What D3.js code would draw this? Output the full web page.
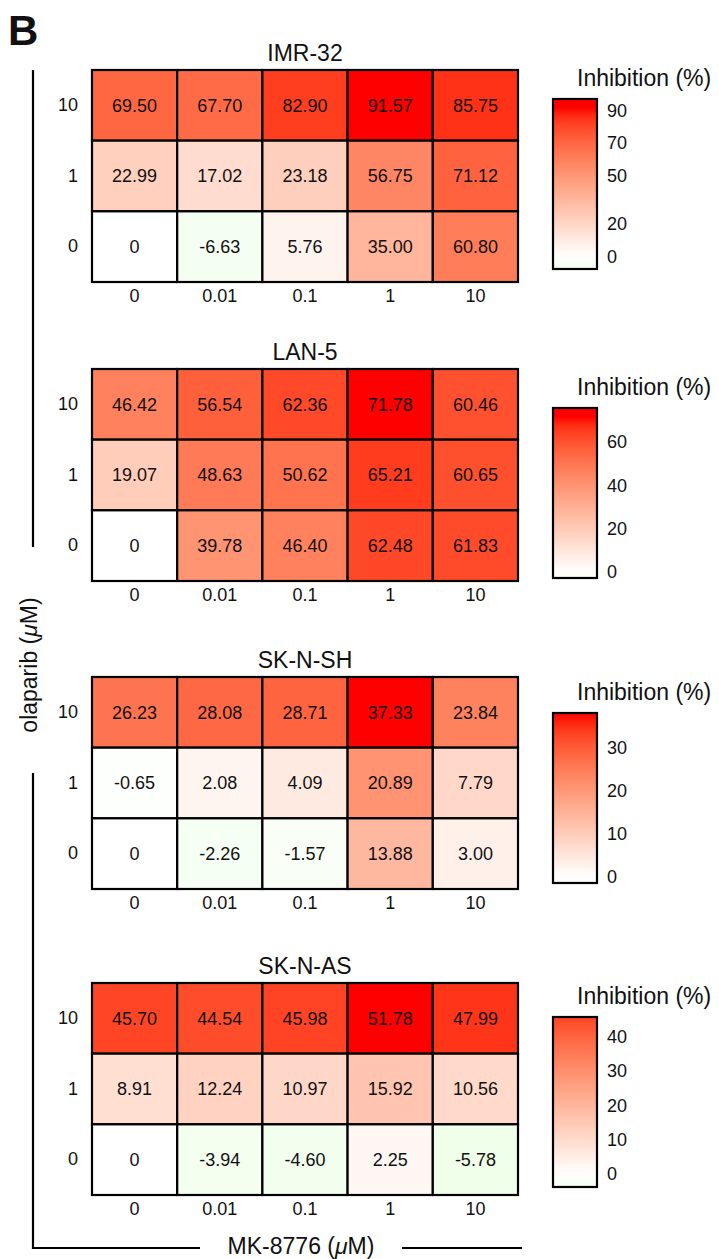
<!DOCTYPE html>
<html>
<head>
<meta charset="utf-8">
<script src="https://cdn.jsdelivr.net/npm/d3@7"></script>
<style>
  body { margin: 0; background: #fff; }
  svg text { font-family: "Liberation Sans", Arial, Helvetica, sans-serif; fill: #111; }
</style>
</head>
<body>
<div id="chart"></div>
<script>
// Data
const cellLines = ["IMR-32", "LAN-5", "SK-N-SH", "SK-N-AS"];
const mkDoses = ["0", "0.01", "0.1", "1", "10"];   // MK-8776 (uM), columns
const olaDoses = ["10", "1", "0"];                  // olaparib (uM), rows top->bottom

const imr32 = [
  [69.50, 67.70, 82.90, 91.57, 85.75],
  [22.99, 17.02, 23.18, 56.75, 71.12],
  [0, -6.63, 5.76, 35.00, 60.80]
];
const lan5 = [
  [46.42, 56.54, 62.36, 71.78, 60.46],
  [19.07, 48.63, 50.62, 65.21, 60.65],
  [0, 39.78, 46.40, 62.48, 61.83]
];
const sknsh = [
  [26.23, 28.08, 28.71, 37.33, 23.84],
  [-0.65, 2.08, 4.09, 20.89, 7.79],
  [0, -2.26, -1.57, 13.88, 3.00]
];
const sknas = [
  [45.70, 44.54, 45.98, 51.78, 47.99],
  [8.91, 12.24, 10.97, 15.92, 10.56],
  [0, -3.94, -4.60, 2.25, -5.78]
];
const panelValues = [imr32, lan5, sknsh, sknas];

const legendTicks = [
  [0, 20, 50, 70, 90],
  [0, 20, 40, 60],
  [0, 10, 20, 30],
  [0, 10, 20, 30, 40]
];
// value range covered by each colour bar (bottom, top)
const legendRange = [
  [-7.8, 97.1],
  [-2.8, 75.8],
  [-1.4, 38.1],
  [-3.8, 45.8]
];

// Layout
const W = 719, H = 1259;
const gridLeft = 92, gridRight = 518, gridH = 212;
const panelTop = [70, 369, 677, 983];
const legendTop = [99, 408, 713, 1017];
const legendX = 553, legendW = 44, legendH = 170;
const font = "Liberation Sans, Arial, Helvetica, sans-serif";

const svg = d3.select("#chart").append("svg")
  .attr("width", W)
  .attr("height", H);

const defs = svg.append("defs");

// panel letter
svg.append("text")
  .attr("x", 8)
  .attr("y", 45)
  .style("font-size", "42px")
  .style("font-weight", "bold")
  .text("B");

const x = d3.scaleBand()
  .domain(mkDoses)
  .range([gridLeft, gridRight]);

const fmt = v => v === 0 ? "0" : v.toFixed(2);

panelValues.forEach((values, p) => {
  const top = panelTop[p];
  const y = d3.scaleBand()
    .domain(olaDoses)
    .range([top, top + gridH]);

  const maxV = d3.max(values.flat());
  const color = d3.scaleLinear()
    .domain([-maxV, 0, maxV])
    .range(["#00ff00", "#ffffff", "#ff0000"])
    .interpolate(d3.interpolateLab)
    .clamp(true);

  const cells = [];
  values.forEach((row, i) => row.forEach((v, j) => {
    cells.push({ row: olaDoses[i], col: mkDoses[j], value: v });
  }));

  const g = svg.append("g");

  g.selectAll("rect.cell")
    .data(cells)
    .join("rect")
    .attr("class", "cell")
    .attr("x", d => x(d.col))
    .attr("y", d => y(d.row))
    .attr("width", x.bandwidth())
    .attr("height", y.bandwidth())
    .attr("fill", d => color(d.value))
    .attr("stroke", "#000")
    .attr("stroke-width", 2.2);

  g.selectAll("text.val")
    .data(cells)
    .join("text")
    .attr("class", "val")
    .attr("x", d => x(d.col) + x.bandwidth() / 2)
    .attr("y", d => y(d.row) + y.bandwidth() / 2)
    .attr("dy", "0.35em")
    .attr("text-anchor", "middle")
    .style("font-size", "18px")
    .text(d => fmt(d.value));

  // title
  g.append("text")
    .attr("x", (gridLeft + gridRight) / 2)
    .attr("y", top - 9)
    .attr("text-anchor", "middle")
    .style("font-size", "23px")
    .text(cellLines[p]);

  // axes
  g.append("g")
    .attr("transform", `translate(0,${top + gridH + 7})`)
    .call(d3.axisBottom(x).tickSize(0).tickPadding(0))
    .call(a => a.select(".domain").remove())
    .selectAll("text")
    .attr("dy", "0.71em")
    .style("font-family", font)
    .style("font-size", "18px")
    .style("fill", "#111");

  g.append("g")
    .attr("transform", `translate(${gridLeft - 14},0)`)
    .call(d3.axisLeft(y).tickSize(0).tickPadding(0))
    .call(a => a.select(".domain").remove())
    .selectAll("text")
    .style("font-family", font)
    .style("font-size", "18px")
    .style("fill", "#111");

  // colour legend
  const ly = d3.scaleLinear()
    .domain(legendRange[p])
    .range([legendTop[p] + legendH, legendTop[p]]);

  const grad = defs.append("linearGradient")
    .attr("id", "grad" + p)
    .attr("x1", 0).attr("y1", 1)
    .attr("x2", 0).attr("y2", 0);
  d3.range(0, 1.0001, 0.05).forEach(t => {
    const v = legendRange[p][0] + t * (legendRange[p][1] - legendRange[p][0]);
    grad.append("stop")
      .attr("offset", t)
      .attr("stop-color", color(v));
  });

  g.append("text")
    .attr("x", 577)
    .attr("y", legendTop[p] - 13)
    .style("font-size", "23px")
    .text("Inhibition (%)");

  g.append("rect")
    .attr("x", legendX)
    .attr("y", ly(legendRange[p][1]))
    .attr("width", legendW)
    .attr("height", ly(legendRange[p][0]) - ly(legendRange[p][1]))
    .attr("fill", `url(#grad${p})`)
    .attr("stroke", "#000")
    .attr("stroke-width", 2.2);

  g.append("g")
    .attr("transform", `translate(${legendX + legendW + 10},0)`)
    .call(d3.axisRight(ly).tickValues(legendTicks[p]).tickSize(0).tickPadding(0))
    .call(a => a.select(".domain").remove())
    .selectAll("text")
    .style("font-family", font)
    .style("font-size", "18px")
    .style("fill", "#111");
});

// outer axis titles with bracket lines
const lineG = svg.append("g")
  .attr("stroke", "#000")
  .attr("stroke-width", 2.2)
  .attr("fill", "none");

lineG.append("path").attr("d", "M33,70 V547");
lineG.append("path").attr("d", "M33,773 V1248 H200");
lineG.append("path").attr("d", "M402,1248 H522");

const yTitle = svg.append("text")
  .attr("transform", "translate(37,665) rotate(-90)")
  .attr("text-anchor", "middle")
  .style("font-size", "23px");
yTitle.append("tspan").text("olaparib (");
yTitle.append("tspan").style("font-style", "italic").text("\u03bc");
yTitle.append("tspan").text("M)");

const xTitle = svg.append("text")
  .attr("x", 301)
  .attr("y", 1254)
  .attr("text-anchor", "middle")
  .style("font-size", "23px");
xTitle.append("tspan").text("MK-8776 (");
xTitle.append("tspan").style("font-style", "italic").text("\u03bc");
xTitle.append("tspan").text("M)");
</script>
</body>
</html>
